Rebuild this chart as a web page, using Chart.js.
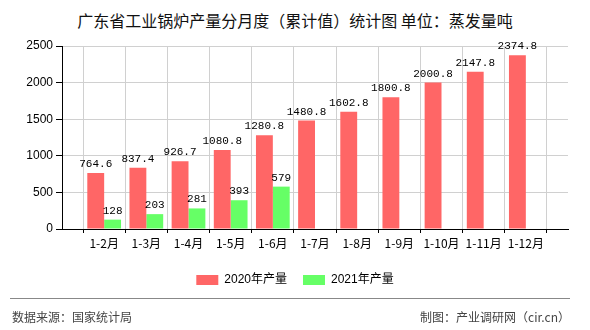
<!DOCTYPE html>
<html>
<head>
<meta charset="utf-8">
<script src="https://cdn.jsdelivr.net/npm/chart.js@4"></script>
<style>
  html, body { margin: 0; padding: 0; background: #fff; }
  #wrap { position: relative; width: 590px; height: 330px; overflow: hidden; }
  #chart { position: absolute; left: 0; top: 0; }
  .title {
    position: absolute; left: 0; top: 10px; width: 590px; text-align: center;
    font: 16px "Noto Sans CJK SC", sans-serif; color: #111; line-height: 20px;
  }
  .rule { position: absolute; left: 10px; top: 298px; width: 560px; height: 1px; background: #888; }
  .foot { position: absolute; top: 309px; font: 12px "Noto Sans CJK SC", sans-serif; color: #444; line-height: 16px; }
  .foot.left { left: 12px; }
  .foot.right { right: 20px; }
</style>
</head>
<body>
<div id="wrap">
  <div class="title">广东省工业锅炉产量分月度（累计值）统计图 单位：蒸发量吨</div>
  <canvas id="chart" width="590" height="330"></canvas>
  <div class="rule"></div>
  <div class="foot left">数据来源：国家统计局</div>
  <div class="foot right">制图：产业调研网（cir.cn）</div>
</div>
<script>
const months = ['1-2月', '1-3月', '1-4月', '1-5月', '1-6月', '1-7月', '1-8月', '1-9月', '1-10月', '1-11月', '1-12月'];
const output2020 = [764.6, 837.4, 926.7, 1080.8, 1280.8, 1480.8, 1602.8, 1800.8, 2000.8, 2147.8, 2374.8];
const output2021 = [128, 203, 281, 393, 579];
const yTicks = [0, 500, 1000, 1500, 2000, 2500];

// empty slot at each end so bars sit on the grid lines
const labels = [''].concat(months, ['']);
const pad = arr => [null].concat(months.map((m, i) => (i < arr.length ? arr[i] : null)), [null]);

const valueLabels = {
  id: 'valueLabels',
  afterDatasetsDraw(chart) {
    const c = chart.ctx;
    c.save();
    c.font = '11px "Liberation Mono", monospace';
    c.fillStyle = '#000';
    c.textAlign = 'center';
    c.textBaseline = 'alphabetic';
    chart.data.datasets.forEach((ds, di) => {
      chart.getDatasetMeta(di).data.forEach((bar, i) => {
        const v = ds.data[i];
        if (v === null || v === undefined) return;
        c.fillText(String(v), bar.x, bar.y - 6);
      });
    });
    c.restore();
  }
};

new Chart(document.getElementById('chart'), {
  type: 'bar',
  data: {
    labels: labels,
    datasets: [
      { label: '2020年产量', data: pad(output2020), backgroundColor: '#ff6666' },
      { label: '2021年产量', data: pad(output2021), backgroundColor: '#66ff66' }
    ]
  },
  options: {
    responsive: false,
    animation: false,
    categoryPercentage: 0.8,
    barPercentage: 1.0,
    layout: { padding: { top: 46, right: 22, bottom: 34, left: 22 } },
    plugins: {
      title: { display: false },
      tooltip: { enabled: false },
      legend: {
        position: 'bottom',
        labels: {
          boxWidth: 22,
          boxHeight: 10,
          padding: 16,
          color: '#000',
          font: { family: '"Liberation Sans", "Noto Sans CJK SC", sans-serif', size: 12 }
        }
      }
    },
    scales: {
      x: {
        offset: false,
        afterFit: s => { s.height = 29; },
        grid: { color: '#d0d0d0', tickColor: '#000', tickLength: 4 },
        border: { color: '#000', width: 1 },
        ticks: {
          autoSkip: false, maxRotation: 0, padding: 3, color: '#000',
          font: { family: '"Noto Sans CJK SC", sans-serif', size: 12 }
        }
      },
      y: {
        min: yTicks[0],
        max: yTicks[yTicks.length - 1],
        afterFit: s => { s.width = 40; },
        afterBuildTicks: s => { s.ticks = yTicks.map(v => ({ value: v })); },
        grid: { color: '#d0d0d0', tickColor: '#000', tickLength: 6 },
        border: { color: '#000', width: 1 },
        ticks: {
          padding: 3, color: '#000',
          callback: v => String(v),
          font: { family: '"Liberation Sans", sans-serif', size: 12 }
        }
      }
    }
  },
  plugins: [valueLabels]
});
</script>
</body>
</html>
